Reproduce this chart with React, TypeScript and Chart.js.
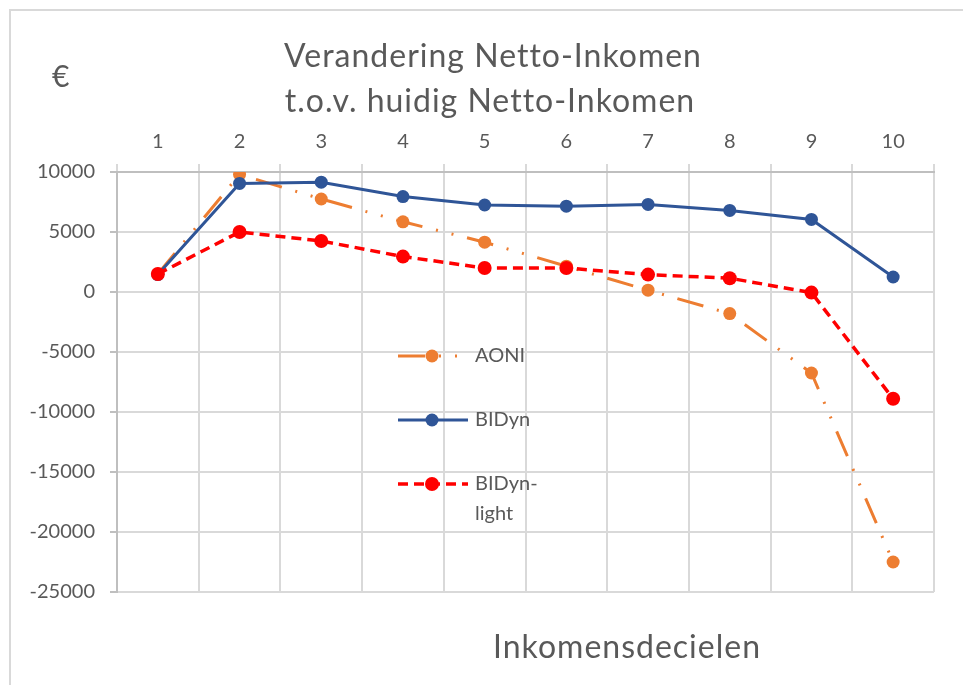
import { useEffect, useRef } from "react";
import { Chart, registerables } from "chart.js";
Chart.register(...registerables);

const categories = ["1", "2", "3", "4", "5", "6", "7", "8", "9", "10"];
const aoni = [1500, 9800, 7750, 5850, 4150, 2150, 150, -1800, -6750, -22500];
const bidyn = [1450, 9050, 9150, 7950, 7250, 7150, 7300, 6800, 6050, 1250];
const bidynLight = [1500, 5000, 4250, 2950, 2000, 2000, 1450, 1150, -50, -8900];
const seriesNames = ["AONI", "BIDyn", "BIDyn-light"];
const legendLabels = [["AONI"], ["BIDyn"], ["BIDyn-", "light"]];
const yMin = -25000;
const yMax = 10000;
const yStep = 5000;
const titleLines = ["Verandering Netto-Inkomen", "t.o.v. huidig Netto-Inkomen"];
const yUnit = "€";
const xTitle = "Inkomensdecielen";

const FONT = "Lato, 'Open Sans', sans-serif";
const TEXT = "#595959";

const decorPlugin = {
  id: "decor",
  beforeDraw(chart: any) {
    const ctx = chart.ctx;
    ctx.save();
    ctx.fillStyle = "#ffffff";
    ctx.fillRect(0, 0, chart.width, chart.height);
    ctx.strokeStyle = "#D9D9D9";
    ctx.lineWidth = 2;
    ctx.strokeRect(10, 10, chart.width + 20, chart.height + 20);
    ctx.restore();
  },
  afterDraw(chart: any) {
    const ctx = chart.ctx;
    const ca = chart.chartArea;
    ctx.save();
    ctx.fillStyle = TEXT;
    ctx.textAlign = "center";
    ctx.textBaseline = "alphabetic";
    ctx.font = `32px ${FONT}`;
    (ctx as any).letterSpacing = "1px";
    ctx.fillText(titleLines[0], 493, 67);
    ctx.fillText(titleLines[1], 490, 112);
    ctx.fillText(xTitle, 627, 658);
    (ctx as any).letterSpacing = "0px";
    ctx.font = `30px ${FONT}`;
    ctx.textAlign = "left";
    ctx.fillText(yUnit, 52, 87);

    // legend inside plot
    const rows = [356, 420, 484];
    const x0 = ca.left + 281;
    const x1 = x0 + 70;
    const mx = x0 + 34;
    chart.data.datasets.forEach((ds: any, i: number) => {
      const y = rows[i];
      ctx.save();
      ctx.strokeStyle = ds.borderColor;
      ctx.lineWidth = ds.borderWidth;
      ctx.setLineDash(ds.borderDash || []);
      ctx.beginPath();
      ctx.moveTo(x0, y);
      ctx.lineTo(x1, y);
      ctx.stroke();
      ctx.setLineDash([]);
      ctx.fillStyle = ds.pointBackgroundColor;
      ctx.beginPath();
      ctx.arc(mx, y, ds.pointRadius, 0, Math.PI * 2);
      ctx.fill();
      ctx.restore();
      ctx.fillStyle = TEXT;
      ctx.font = `20px ${FONT}`;
      ctx.textAlign = "left";
      ctx.textBaseline = "middle";
      legendLabels[i].forEach((t, j) => {
        ctx.fillText(t, x1 + 7, y + j * 30);
      });
    });
    ctx.restore();
  },
};

export default function App() {
  const ref = useRef<HTMLCanvasElement>(null);
  useEffect(() => {
    const chart = new Chart(ref.current!, {
      type: "line",
      data: {
        labels: categories,
        datasets: [
          {
            label: seriesNames[0],
            data: aoni,
            borderColor: "#ED7D31",
            backgroundColor: "#ED7D31",
            pointBackgroundColor: "#ED7D31",
            pointBorderWidth: 0,
            borderWidth: 3,
            borderDash: [27, 14, 2, 14, 2, 14],
            pointRadius: 6.5,
            order: 3,
          },
          {
            label: seriesNames[1],
            data: bidyn,
            borderColor: "#2F5597",
            backgroundColor: "#2F5597",
            pointBackgroundColor: "#2F5597",
            pointBorderWidth: 0,
            borderWidth: 3,
            pointRadius: 6.5,
            order: 2,
          },
          {
            label: seriesNames[2],
            data: bidynLight,
            borderColor: "#FF0000",
            backgroundColor: "#FF0000",
            pointBackgroundColor: "#FF0000",
            pointBorderWidth: 0,
            borderWidth: 3.5,
            borderDash: [10, 6],
            pointRadius: 7,
            order: 1,
          },
        ] as any,
      },
      options: {
        animation: false,
        responsive: false,
        layout: { padding: { left: 0, top: 0, right: 29, bottom: 93 } },
        plugins: {
          legend: { display: false },
          title: { display: false },
          tooltip: { enabled: false },
        },
        scales: {
          x: {
            position: "top",
            offset: true,
            afterFit: (s: any) => {
              s.height = 172;
            },
            grid: {
              offset: true,
              color: "#D9D9D9",
              lineWidth: 2,
              tickLength: 8,
              tickColor: "#D9D9D9",
            },
            border: { color: "#BFBFBF", width: 2 },
            ticks: {
              color: TEXT,
              font: { family: FONT, size: 20 },
              padding: 10,
              maxRotation: 0,
            },
          },
          y: {
            min: yMin,
            max: yMax,
            afterFit: (s: any) => {
              s.width = 117;
            },
            grid: {
              color: "#D9D9D9",
              lineWidth: 2,
              tickLength: 7,
              tickColor: "#BFBFBF",
            },
            border: { color: "#BFBFBF", width: 2 },
            ticks: {
              stepSize: yStep,
              color: TEXT,
              font: { family: FONT, size: 20 },
              padding: 15,
              callback: (v: any) => String(v),
            },
          },
        },
      },
      plugins: [decorPlugin],
    });
    return () => chart.destroy();
  }, []);
  return (
    <div style={{ position: "absolute", left: 0, top: 0, width: 963, height: 685 }}>
      <canvas ref={ref} width={963} height={685} />
    </div>
  );
}
